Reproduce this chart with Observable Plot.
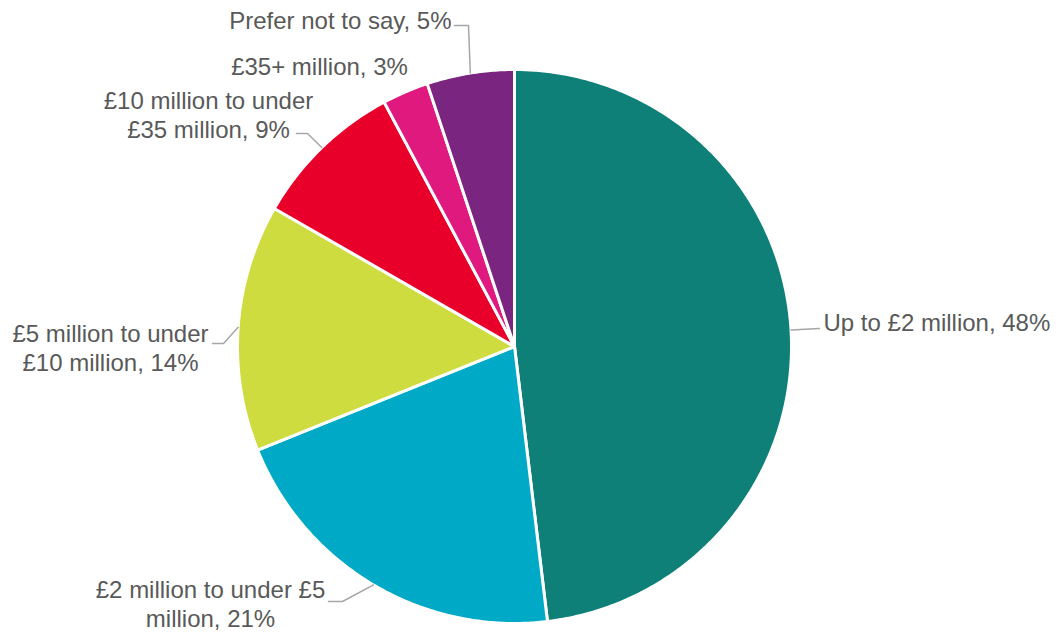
<!DOCTYPE html>
<html>
<head>
<meta charset="utf-8">
<script src="https://cdn.jsdelivr.net/npm/d3@7"></script>
<script src="https://cdn.jsdelivr.net/npm/@observablehq/plot@0.6"></script>
<style>
  html, body { margin: 0; padding: 0; background: #ffffff; }
  #chart { width: 1062px; height: 634px; }
</style>
</head>
<body>
<div id="chart"></div>
<script>
// ---- data ----
const categories = [
  "Up to £2 million",
  "£2 million to under £5 million",
  "£5 million to under £10 million",
  "£10 million to under £35 million",
  "£35+ million",
  "Prefer not to say"
];
// shares (labels show rounded values)
const shares = [48.1, 20.8, 14.4, 8.9, 2.7, 5.1];
const labels = [
  "Up to £2 million, 48%",
  "£2 million to under £5\nmillion, 21%",
  "£5 million to under\n£10 million, 14%",
  "£10 million to under\n£35 million, 9%",
  "£35+ million, 3%",
  "Prefer not to say, 5%"
];
const colors = ["#0e8078", "#00aac7", "#cedc40", "#e8002b", "#e0197f", "#7a2580"];

// ---- layout (page pixels) ----
const W = 1062, H = 634;
const cx = 514, cy = 346, R = 277;
const labelPos = [[823, 321, "start"], [210, 603, "middle"], [110, 347, "middle"], [208, 114, "middle"], [319, 65.5, "middle"], [451, 19.5, "end"]];
const leaderPts = [[[819, 328]], [[342, 601], [328, 601]], [[223, 343], [212, 343]], [[307, 133], [296, 133]], [], [[468, 25], [454, 25]]];

// ---- geometry from data ----
const arcs = d3.pie().sort(null).value(d => d)(shares);
const slicePts = [];
arcs.forEach((a, i) => {
  slicePts.push({k: i, x: 0, y: 0});
  const n = Math.max(4, Math.ceil((a.endAngle - a.startAngle) / (Math.PI / 360)));
  for (let j = 0; j <= n; j++) {
    const t = a.startAngle + (a.endAngle - a.startAngle) * j / n;
    slicePts.push({k: i, x: R * Math.sin(t), y: R * Math.cos(t)});
  }
  slicePts.push({k: i, x: 0, y: 0});
});

const leaders = [];
arcs.forEach((a, i) => {
  if (!leaderPts[i].length) return;
  const m = (a.startAngle + a.endAngle) / 2;
  leaders.push({k: i, x: R * Math.sin(m), y: R * Math.cos(m)});
  leaderPts[i].forEach(([px, py]) => leaders.push({k: i, x: px - cx, y: cy - py}));
});

const labelData = labels.map((t, i) => ({
  text: t, x: labelPos[i][0] - cx, y: cy - labelPos[i][1], anchor: labelPos[i][2]
}));

const textOpts = anchor => ({
  x: "x", y: "y", text: "text", textAnchor: anchor, lineAnchor: "middle",
  fontSize: 24, lineHeight: 1.17, fill: "#595959"
});

const chart = Plot.plot({
  width: W,
  height: H,
  marginLeft: cx - R,
  marginRight: W - (cx + R),
  marginTop: cy - R,
  marginBottom: H - (cy + R),
  style: {fontFamily: "'Liberation Sans', Arial, sans-serif", background: "#ffffff", overflow: "visible"},
  x: {domain: [-R, R], range: [cx - R, cx + R], axis: null},
  y: {domain: [-R, R], range: [cy + R, cy - R], axis: null},
  color: {domain: categories, range: colors},
  marks: [
    Plot.line(slicePts, {x: "x", y: "y", z: "k", fill: d => categories[d.k], stroke: "#ffffff", strokeWidth: 3, curve: "linear"}),
    Plot.line(leaders, {x: "x", y: "y", z: "k", stroke: "#a6a6a6", strokeWidth: 1.5, curve: "linear", strokeLinejoin: "miter"}),
    Plot.text(labelData.filter(d => d.anchor === "start"), textOpts("start")),
    Plot.text(labelData.filter(d => d.anchor === "middle"), textOpts("middle")),
    Plot.text(labelData.filter(d => d.anchor === "end"), textOpts("end"))
  ]
});
document.getElementById("chart").appendChild(chart);
</script>
</body>
</html>
